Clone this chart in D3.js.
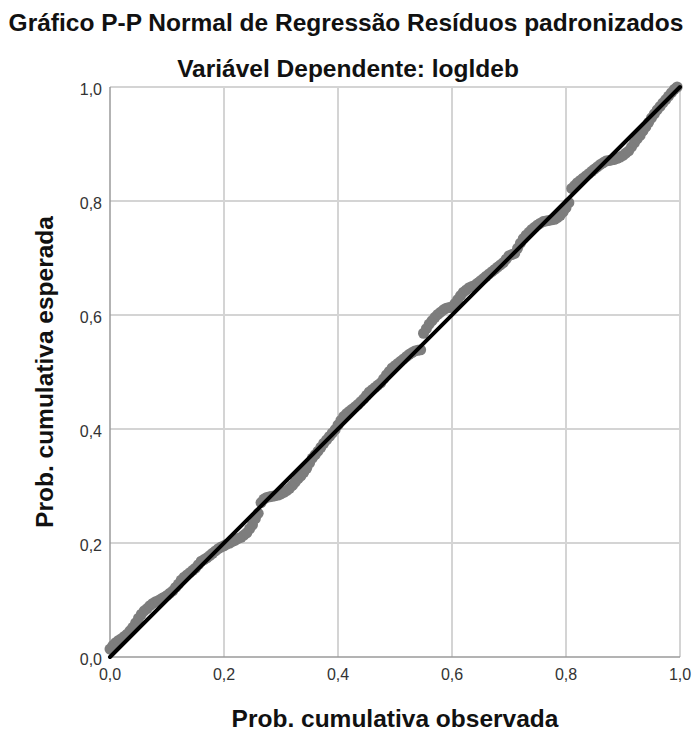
<!DOCTYPE html>
<html>
<head>
<meta charset="utf-8">
<script src="https://d3js.org/d3.v7.min.js"></script>
<style>
    body { margin: 0; background: #fff; }
    svg { font-family: "Liberation Sans", Arial, sans-serif; }
    .grid line { stroke: #d4d4d4; stroke-width: 1.5; shape-rendering: crispEdges; }
    .tick-label { font-size: 16px; fill: #333; }
    .title { font-weight: bold; fill: #111; }
</style>
</head>
<body>
<svg width="692" height="731"></svg>
<script>

    var observed = [
        0.000, 0.005, 0.010, 0.015, 0.020, 0.025, 0.030, 0.035, 0.040, 0.045,
        0.050, 0.055, 0.060, 0.065, 0.070, 0.075, 0.080, 0.085, 0.090, 0.095,
        0.100, 0.105, 0.110, 0.115, 0.120, 0.125, 0.130, 0.135, 0.140, 0.145,
        0.150, 0.155, 0.160, 0.165, 0.170, 0.175, 0.180, 0.185, 0.190, 0.195,
        0.200, 0.205, 0.210, 0.215, 0.220, 0.225, 0.230, 0.235, 0.240, 0.245,
        0.250, 0.255, 0.260, 0.265, 0.270, 0.275, 0.280, 0.285, 0.290, 0.295,
        0.300, 0.305, 0.310, 0.315, 0.320, 0.325, 0.330, 0.335, 0.340, 0.345,
        0.350, 0.355, 0.360, 0.365, 0.370, 0.375, 0.380, 0.385, 0.390, 0.395,
        0.400, 0.405, 0.410, 0.415, 0.420, 0.425, 0.430, 0.435, 0.440, 0.445,
        0.450, 0.455, 0.460, 0.465, 0.470, 0.475, 0.480, 0.485, 0.490, 0.495,
        0.500, 0.505, 0.510, 0.515, 0.520, 0.525, 0.530, 0.535, 0.540, 0.545,
        0.550, 0.555, 0.560, 0.565, 0.570, 0.575, 0.580, 0.585, 0.590, 0.595,
        0.600, 0.605, 0.610, 0.615, 0.620, 0.625, 0.630, 0.635, 0.640, 0.645,
        0.650, 0.655, 0.660, 0.665, 0.670, 0.675, 0.680, 0.685, 0.690, 0.695,
        0.700, 0.705, 0.710, 0.715, 0.720, 0.725, 0.730, 0.735, 0.740, 0.745,
        0.750, 0.755, 0.760, 0.765, 0.770, 0.775, 0.780, 0.785, 0.790, 0.795,
        0.800, 0.805, 0.810, 0.815, 0.820, 0.825, 0.830, 0.835, 0.840, 0.845,
        0.850, 0.855, 0.860, 0.865, 0.870, 0.875, 0.880, 0.885, 0.890, 0.895,
        0.900, 0.905, 0.910, 0.915, 0.920, 0.925, 0.930, 0.935, 0.940, 0.945,
        0.950, 0.955, 0.960, 0.965, 0.970, 0.975, 0.980, 0.985, 0.990, 0.995
    ];
    var expected = [
        0.014, 0.020, 0.025, 0.029, 0.032, 0.036, 0.040, 0.046, 0.052, 0.060,
        0.068, 0.075, 0.081, 0.085, 0.090, 0.094, 0.097, 0.099, 0.102, 0.105,
        0.108, 0.112, 0.116, 0.122, 0.128, 0.135, 0.140, 0.144, 0.148, 0.152,
        0.156, 0.162, 0.168, 0.171, 0.174, 0.178, 0.182, 0.186, 0.190, 0.193,
        0.195, 0.198, 0.200, 0.203, 0.205, 0.208, 0.210, 0.214, 0.218, 0.225,
        0.232, 0.243, 0.252, 0.271, 0.277, 0.280, 0.281, 0.282, 0.283, 0.284,
        0.286, 0.289, 0.292, 0.296, 0.301, 0.307, 0.313, 0.318, 0.324, 0.331,
        0.340, 0.349, 0.355, 0.361, 0.368, 0.375, 0.381, 0.387, 0.393, 0.399,
        0.407, 0.415, 0.422, 0.427, 0.431, 0.435, 0.439, 0.443, 0.448, 0.453,
        0.459, 0.465, 0.469, 0.473, 0.477, 0.481, 0.488, 0.495, 0.501, 0.507,
        0.511, 0.515, 0.519, 0.523, 0.527, 0.531, 0.534, 0.537, 0.538, 0.539,
        0.568, 0.576, 0.584, 0.590, 0.596, 0.601, 0.605, 0.609, 0.612, 0.613,
        0.614, 0.620, 0.627, 0.634, 0.640, 0.644, 0.648, 0.650, 0.652, 0.656,
        0.660, 0.664, 0.668, 0.672, 0.676, 0.680, 0.684, 0.688, 0.692, 0.698,
        0.704, 0.706, 0.708, 0.717, 0.726, 0.734, 0.740, 0.745, 0.750, 0.754,
        0.758, 0.761, 0.764, 0.765, 0.766, 0.767, 0.768, 0.771, 0.775, 0.781,
        0.788, 0.797, 0.822, 0.827, 0.832, 0.836, 0.840, 0.844, 0.848, 0.852,
        0.856, 0.860, 0.864, 0.867, 0.870, 0.871, 0.872, 0.873, 0.875, 0.877,
        0.880, 0.884, 0.888, 0.895, 0.902, 0.909, 0.915, 0.923, 0.930, 0.938,
        0.946, 0.953, 0.960, 0.966, 0.972, 0.978, 0.984, 0.990, 0.996, 1.000
    ];
    var ticks = [0, 0.2, 0.4, 0.6, 0.8, 1.0];
    var tickLabels = ["0,0", "0,2", "0,4", "0,6", "0,8", "1,0"];

    var title = "Gráfico P-P Normal de Regressão Resíduos padronizados";
    var subtitle = "Variável Dependente: logldeb";
    var xTitle = "Prob. cumulativa observada";
    var yTitle = "Prob. cumulativa esperada";

    var points = observed.map(function (d, i) { return [d, expected[i]]; });

    var svg = d3.select("svg"),
        margin = { top: 87, right: 12, bottom: 74, left: 110 },
        width = +svg.attr("width") - margin.left - margin.right,
        height = +svg.attr("height") - margin.top - margin.bottom;

    var x = d3.scaleLinear().domain([0, 1]).range([0, width]);
    var y = d3.scaleLinear().domain([0, 1]).range([height, 0]);

    var g = svg.append("g")
        .attr("transform", "translate(" + margin.left + "," + margin.top + ")");

    // grid
    var grid = g.append("g").attr("class", "grid");
    grid.selectAll(".vx").data(ticks.slice(1)).enter().append("line")
        .attr("x1", function (d) { return x(d); }).attr("x2", function (d) { return x(d); })
        .attr("y1", 0).attr("y2", height);
    grid.selectAll(".hy").data(ticks.slice(1)).enter().append("line")
        .attr("y1", function (d) { return y(d); }).attr("y2", function (d) { return y(d); })
        .attr("x1", 0).attr("x2", width);

    // axes lines
    g.append("line").attr("x1", 0).attr("x2", 0).attr("y1", 0).attr("y2", height)
        .attr("stroke", "#9a9a9a").attr("stroke-width", 1.5);
    g.append("line").attr("x1", 0).attr("x2", width).attr("y1", height).attr("y2", height)
        .attr("stroke", "#9a9a9a").attr("stroke-width", 1.5);

    // tick labels
    g.selectAll(".ylab").data(ticks).enter().append("text")
        .attr("class", "tick-label")
        .attr("x", -8)
        .attr("y", function (d) { return y(d) + 8; })
        .attr("text-anchor", "end")
        .text(function (d, i) { return tickLabels[i]; });

    g.selectAll(".xlab").data(ticks).enter().append("text")
        .attr("class", "tick-label")
        .attr("x", function (d) { return x(d); })
        .attr("y", height + 23)
        .attr("text-anchor", "middle")
        .text(function (d, i) { return tickLabels[i]; });

    // points
    g.selectAll("circle").data(points).enter().append("circle")
        .attr("cx", function (d) { return x(d[0]); })
        .attr("cy", function (d) { return y(d[1]); })
        .attr("r", 5.5)
        .attr("fill", "#7d7d7d");

    // reference line
    g.append("line")
        .attr("x1", x(0)).attr("y1", y(0))
        .attr("x2", x(1)).attr("y2", y(1))
        .attr("stroke", "#000")
        .attr("stroke-width", 4)
        .attr("stroke-linecap", "round");

    // titles
    svg.append("text").attr("class", "title")
        .attr("x", 346).attr("y", 31)
        .attr("text-anchor", "middle")
        .style("font-size", "24.5px")
        .text(title);

    svg.append("text").attr("class", "title")
        .attr("x", 348).attr("y", 77)
        .attr("text-anchor", "middle")
        .style("font-size", "24.5px")
        .text(subtitle);

    svg.append("text").attr("class", "title")
        .attr("x", margin.left + width / 2).attr("y", 727)
        .attr("text-anchor", "middle")
        .style("font-size", "24.5px")
        .text(xTitle);

    svg.append("text").attr("class", "title")
        .attr("transform", "translate(53," + (margin.top + height / 2) + ") rotate(-90)")
        .attr("text-anchor", "middle")
        .style("font-size", "24.5px")
        .text(yTitle);

</script>
</body>
</html>
